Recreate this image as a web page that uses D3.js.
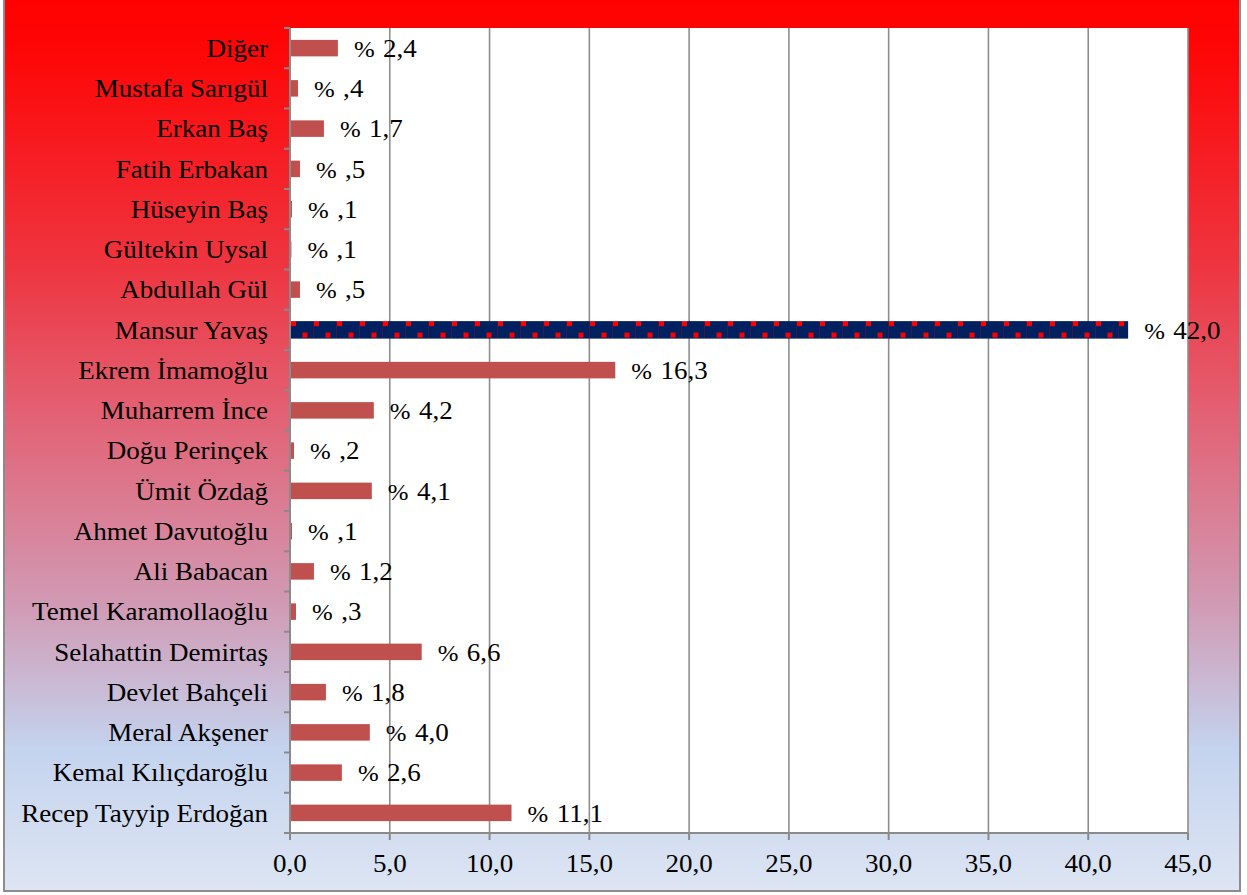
<!DOCTYPE html>
<html>
<head>
<meta charset="utf-8">
<script src="https://cdn.jsdelivr.net/npm/d3@7"></script>
<style>
  html, body { margin: 0; padding: 0; background: #ffffff; }
  svg { display: block; }
  text { font-family: "Liberation Serif", "Times New Roman", serif; fill: #000; }
</style>
</head>
<body>
<svg id="chart" width="1247" height="895"></svg>
<script>
// Categories listed from bottom to top, as in the source chart
const categories = [
  "Recep Tayyip Erdoğan", "Kemal Kılıçdaroğlu", "Meral Akşener", "Devlet Bahçeli",
  "Selahattin Demirtaş", "Temel Karamollaoğlu", "Ali Babacan", "Ahmet Davutoğlu",
  "Ümit Özdağ", "Doğu Perinçek", "Muharrem İnce", "Ekrem İmamoğlu", "Mansur Yavaş",
  "Abdullah Gül", "Gültekin Uysal", "Hüseyin Baş", "Fatih Erbakan", "Erkan Baş",
  "Mustafa Sarıgül", "Diğer"
];
const values = [
  11.1, 2.6, 4.0, 1.8,
  6.6, 0.3, 1.2, 0.1,
  4.1, 0.2, 4.2, 16.3, 42.0,
  0.5, 0.07, 0.1, 0.5, 1.7,
  0.4, 2.4
];
const highlighted = ["Mansur Yavaş"];
const xTicks = [0, 5, 10, 15, 20, 25, 30, 35, 40, 45];

const data = categories.map((c, i) => ({ name: c, value: values[i] }));

const svg = d3.select("#chart");
const plot = { left: 290, right: 1188, top: 28, bottom: 833 };
const FONT = 25.5;
const SX = 1.06;

// background gradient
const defs = svg.append("defs");
const grad = defs.append("linearGradient").attr("id", "bg")
  .attr("x1", 0).attr("y1", 0).attr("x2", 0).attr("y2", 1);
[[0, "#ff0000"], [0.06, "#fe0606"], [0.3, "#ee3540"], [0.5, "#e06a7e"],
 [0.68, "#d19ab4"], [0.84, "#c4d3ee"], [1, "#dde5f3"]]
  .forEach(([o, c]) => grad.append("stop").attr("offset", o).attr("stop-color", c));

svg.append("rect").attr("x", 4).attr("y", -3).attr("width", 1236).attr("height", 894)
  .attr("fill", "url(#bg)").attr("stroke", "#8c8c8c").attr("stroke-width", 2);

const x = d3.scaleLinear().domain([0, 45]).range([plot.left, plot.right]);
const y = d3.scaleBand().domain(categories.slice().reverse())
  .range([plot.top, plot.bottom]).paddingInner(0.59).paddingOuter(0.295);
const yOuter = d3.scaleBand().domain(categories.slice().reverse())
  .range([plot.top, plot.bottom]);

// plot area
svg.append("rect").attr("x", plot.left).attr("y", plot.top)
  .attr("width", plot.right - plot.left).attr("height", plot.bottom - plot.top)
  .attr("fill", "#ffffff");

// gridlines
svg.append("g").selectAll("line").data(xTicks.slice(1)).join("line")
  .attr("x1", d => x(d)).attr("x2", d => x(d))
  .attr("y1", plot.top).attr("y2", plot.bottom)
  .attr("stroke", "#8e8e8e").attr("stroke-width", 1.6);

// pattern for highlighted bar
const hb = data.find(d => highlighted.includes(d.name));
const pat = defs.append("pattern").attr("id", "dots")
  .attr("patternUnits", "userSpaceOnUse")
  .attr("x", x(0) + 1).attr("y", y(hb.name) - 0.5)
  .attr("width", 23).attr("height", 22);
pat.append("rect").attr("width", 23).attr("height", 22).attr("fill", "#002060");
pat.append("line").attr("x1", 22.5).attr("x2", 22.5).attr("y1", 0).attr("y2", 22)
  .attr("stroke", "#6a1038").attr("stroke-width", 0.8).attr("opacity", 0.7);
pat.append("rect").attr("x", 0).attr("y", 0).attr("width", 5).attr("height", 5).attr("fill", "#ff0000");
pat.append("rect").attr("x", 11.5).attr("y", 11.5).attr("width", 5).attr("height", 5).attr("fill", "#ff0000");

// bars
svg.append("g").selectAll("rect").data(data).join("rect")
  .attr("x", x(0))
  .attr("y", d => highlighted.includes(d.name) ? y(d.name) - 0.5 : y(d.name))
  .attr("width", d => x(d.value) - x(0))
  .attr("height", d => highlighted.includes(d.name) ? y.bandwidth() + 1 : y.bandwidth())
  .attr("fill", d => highlighted.includes(d.name) ? "url(#dots)" : "#c0504d");

// value labels
const fmt = v => {
  let s = d3.format(".1f")(v).replace(".", ",");
  if (v < 1) s = s.replace(/^0/, "");
  return s;
};
const vl = svg.append("g").selectAll("text").data(data).join("text")
  .attr("transform", d => `translate(${x(d.value) + 16},${y(d.name) + y.bandwidth() / 2}) scale(${SX},1)`)
  .attr("dy", "0.34em")
  .attr("font-size", FONT);
vl.append("tspan").attr("x", 0).attr("font-size", FONT * 0.92).text("%");
vl.append("tspan").attr("x", 27.5).text(d => fmt(d.value));

// y axis
const yAxis = svg.append("g");
yAxis.append("line").attr("x1", plot.left).attr("x2", plot.left)
  .attr("y1", plot.top).attr("y2", plot.bottom)
  .attr("stroke", "#8a8a8a").attr("stroke-width", 2);
const bounds = categories.map(c => yOuter(c)).concat([plot.bottom]);
yAxis.selectAll("line.tick").data(bounds).join("line").attr("class", "tick")
  .attr("x1", plot.left - 6).attr("x2", plot.left)
  .attr("y1", d => d).attr("y2", d => d)
  .attr("stroke", "#8a8a8a").attr("stroke-width", 2);
yAxis.selectAll("text").data(categories).join("text")
  .attr("transform", d => `translate(268,${y(d) + y.bandwidth() / 2}) scale(${SX},1)`)
  .attr("dy", "0.34em")
  .attr("text-anchor", "end")
  .attr("font-size", FONT)
  .text(d => d);

// x axis
const xAxis = svg.append("g");
xAxis.append("line").attr("x1", plot.left).attr("x2", plot.right)
  .attr("y1", plot.bottom).attr("y2", plot.bottom)
  .attr("stroke", "#8a8a8a").attr("stroke-width", 2);
xAxis.selectAll("line.tick").data(xTicks).join("line").attr("class", "tick")
  .attr("x1", d => x(d)).attr("x2", d => x(d))
  .attr("y1", plot.bottom).attr("y2", plot.bottom + 7)
  .attr("stroke", "#8a8a8a").attr("stroke-width", 2);
xAxis.selectAll("text").data(xTicks).join("text")
  .attr("transform", d => `translate(${x(d)},872) scale(${SX},1)`)
  .attr("text-anchor", "middle")
  .attr("font-size", FONT)
  .text(d => d3.format(".1f")(d).replace(".", ","));
</script>
</body>
</html>
